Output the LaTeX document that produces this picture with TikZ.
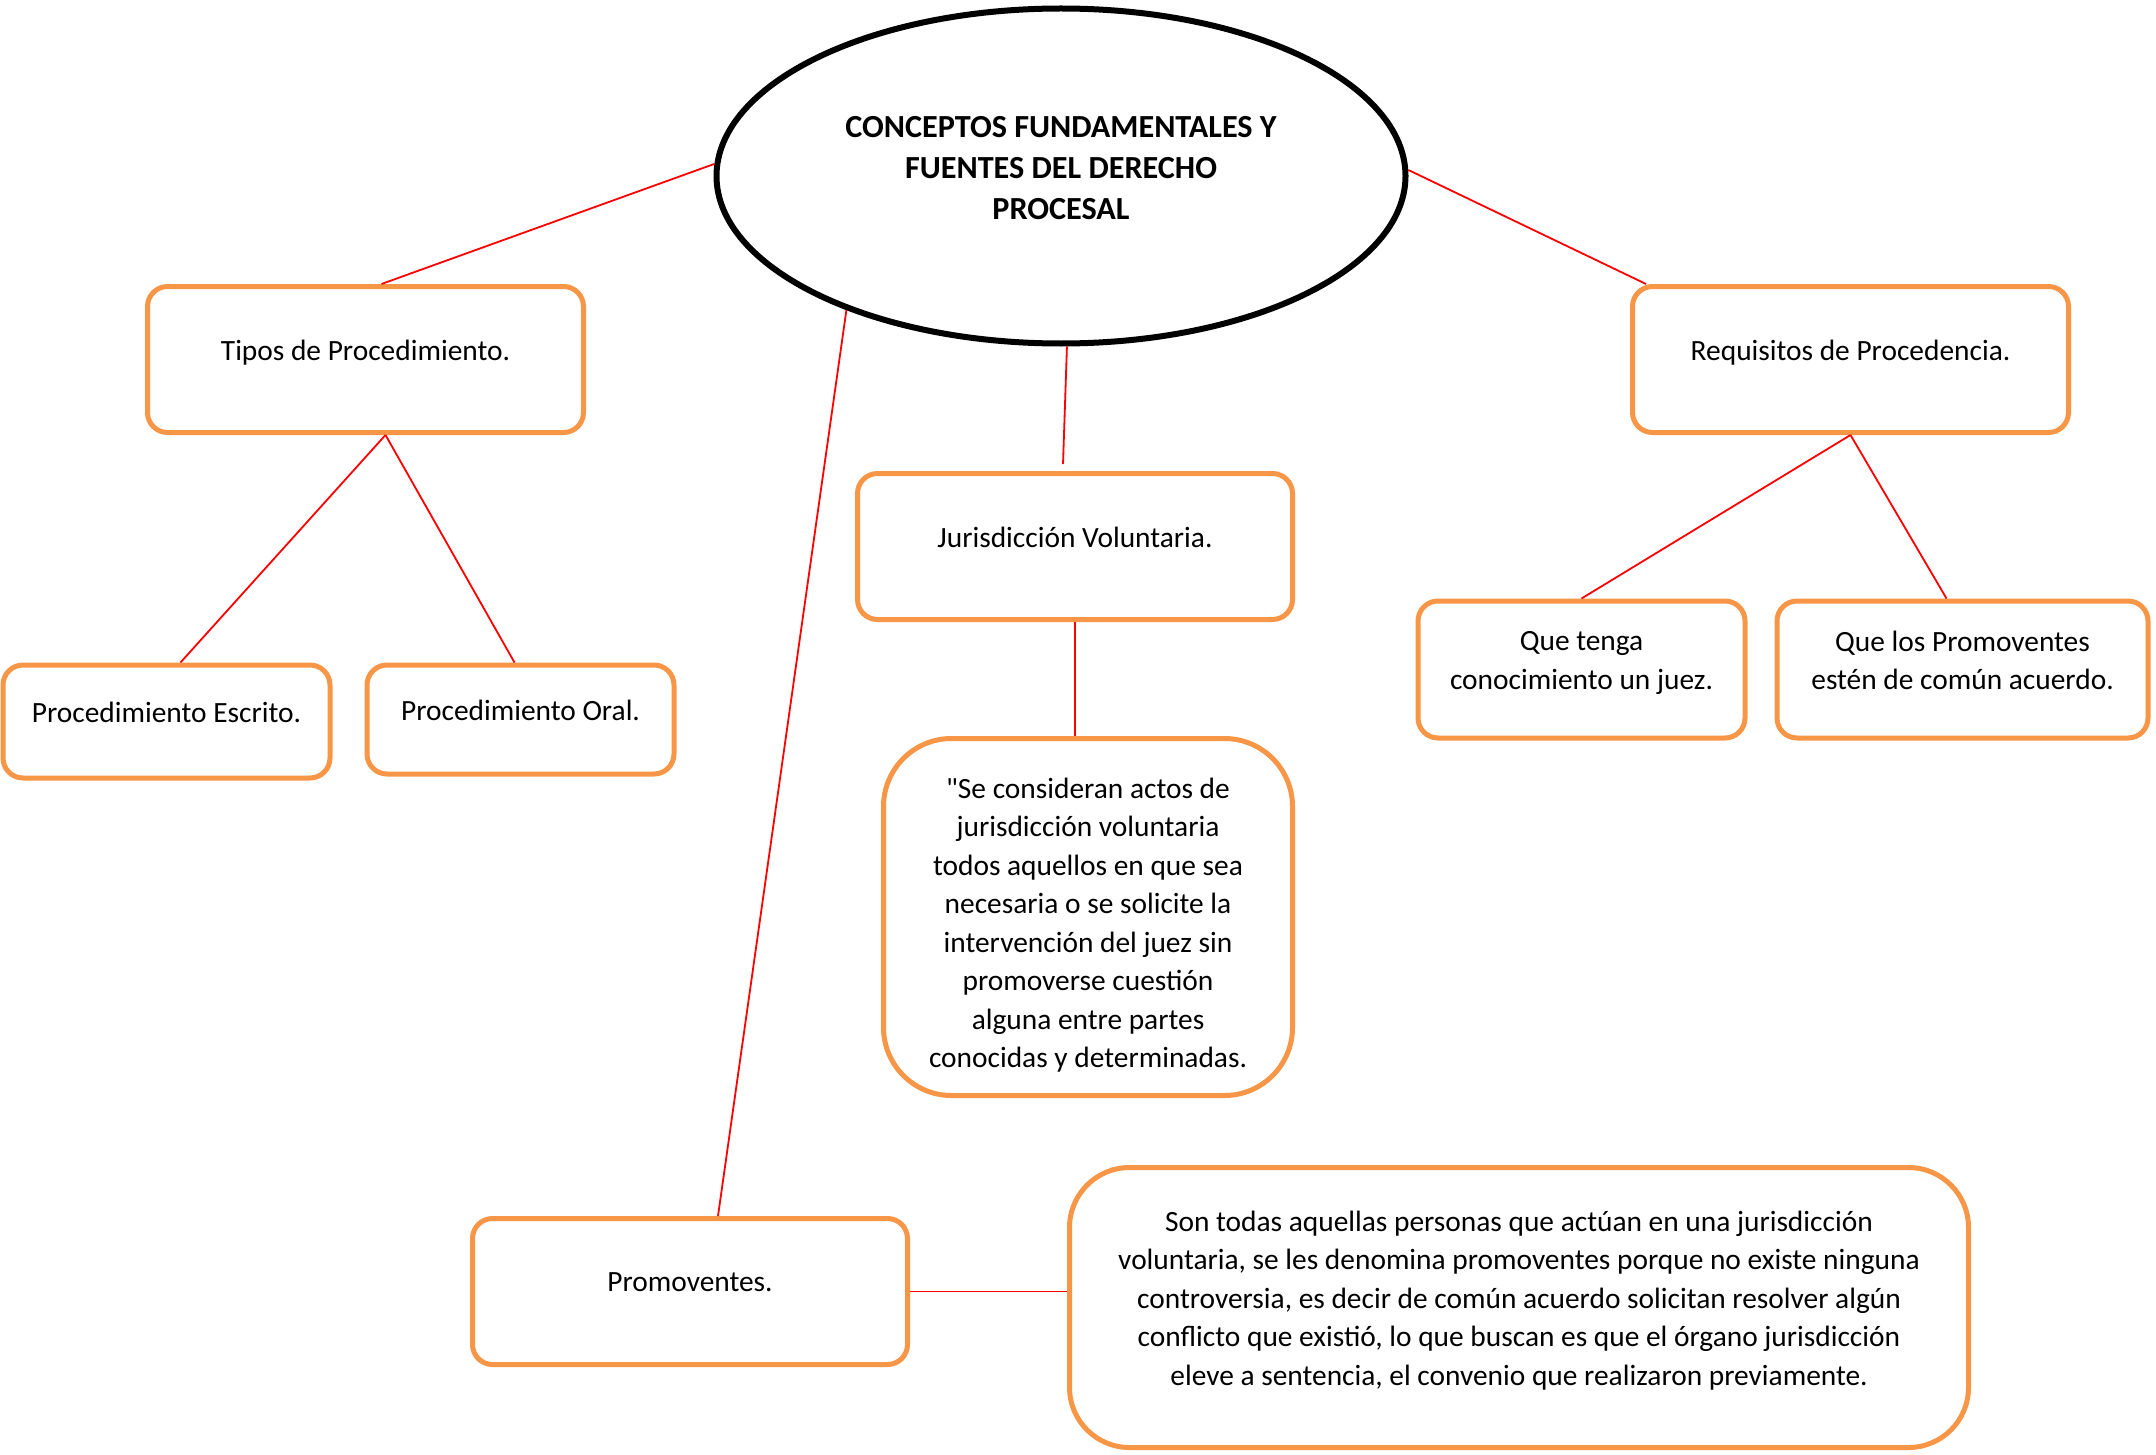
\documentclass[tikz,border=0pt]{standalone}
\usepackage{fontspec}
\setmainfont{Carlito}
\usepackage{tikz}
\usetikzlibrary{shapes,positioning}
\definecolor{naranja}{RGB}{247,150,70}
\definecolor{rojo}{RGB}{255,0,0}
\tikzstyle{caja}  =[rectangle, draw=naranja, line width=2.5pt,
                    rounded corners=10pt, fill=white, align=center,
                    font=\fontsize{14.7}{19.25}\selectfont,
                    inner sep=0pt, text depth=9pt]
\tikzstyle{cajota}=[caja, rounded corners=34pt, text depth=0pt]
\tikzstyle{nube}  =[ellipse, draw, line width=3pt, align=center,
                    font=\bfseries\fontsize{16.1}{20.5}\selectfont,
                    inner sep=0pt, text depth=8.5pt,
                    minimum width=344.5pt, minimum height=167.5pt]
\tikzstyle{edge}  =[rojo, line width=0.9pt]

\begin{document}
\begin{tikzpicture}[x=0.5pt,y=-0.5pt]
    \useasboundingbox (0,0) rectangle (2156,1455);

    \draw (1061,176) node (0) [nube] {CONCEPTOS FUNDAMENTALES Y\\FUENTES DEL DERECHO\\PROCESAL};

    \draw (365.5,359.5) node (1) [caja,minimum width=218pt,minimum height=73pt] {Tipos de Procedimiento.};
    \draw (1850.5,359.5) node (2) [caja,minimum width=218pt,minimum height=73pt] {Requisitos de Procedencia.};
    \draw (1075,546.5) node (3) [caja,minimum width=217.5pt,minimum height=73pt] {Jurisdicción Voluntaria.};
    \draw (166.5,721.5) node (4) [caja,minimum width=163.5pt,minimum height=56.5pt] {Procedimiento Escrito.};
    \draw (520.5,719.5) node (5) [caja,minimum width=153.5pt,minimum height=54.5pt] {Procedimiento Oral.};
    \draw (1581.5,669.5) node (6) [caja,minimum width=163.5pt,minimum height=68.5pt] {Que tenga\\conocimiento un juez.};
    \draw (1962.5,669.5) node (7) [caja,minimum width=185.5pt,minimum height=68.5pt] {Que los Promoventes\\estén de común acuerdo.};
    \draw (1088,917) node (8) [cajota,minimum width=204.5pt,minimum height=178.5pt] {\rule{0pt}{16pt}\textquotedbl Se consideran actos de\\jurisdicción voluntaria\\todos aquellos en que sea\\necesaria o se solicite la\\intervención del juez sin\\promoverse cuestión\\alguna entre partes\\conocidas y determinadas.};
    \draw (690,1291.5) node (9) [caja,minimum width=217.5pt,minimum height=73pt] {Promoventes.};
    \draw (1519,1307.5) node (10) [cajota,rounded corners=30pt,text depth=9.25pt,minimum width=449.5pt,minimum height=140pt] {Son todas aquellas personas que actúan en una jurisdicción\\voluntaria, se les denomina promoventes porque no existe ninguna\\controversia, es decir de común acuerdo solicitan resolver algún\\conflicto que existió, lo que buscan es que el órgano jurisdicción\\eleve a sentencia, el convenio que realizaron previamente.};

    \draw [edge] (0.178) to ([xshift=8pt]1.north);
    \draw [edge] (0.1) to ([xshift=8pt]2.north west);
    \draw [edge] (0.-88) to ([xshift=-6pt,yshift=3.5pt]3.north);
    \draw [edge] (0.212) to ([xshift=14pt]9.north);

    \draw [edge] ([xshift=10pt]1.south) to ([xshift=7pt]4.north);
    \draw [edge] ([xshift=10pt]1.south) to ([xshift=-3pt]5.north);
    \draw [edge] (2.south) to (6.north);
    \draw [edge] (2.south) to ([xshift=-8pt]7.north);
    \draw [edge] (3.south) to (3.south |- 8.north);
    \draw [edge] (9.east) to (9.east -| 10.west);

\end{tikzpicture}
\end{document}
